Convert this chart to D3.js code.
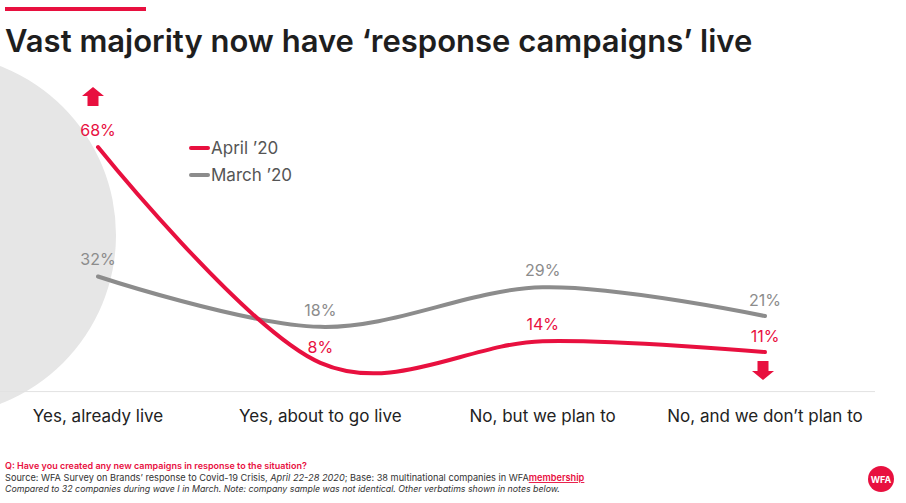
<!DOCTYPE html>
<html>
<head>
<meta charset="utf-8">
<script src="https://cdn.jsdelivr.net/npm/d3@7"></script>
<style>
  body { margin: 0; background: #fff; }
  text { font-family: Inter, "Open Sans", sans-serif; }
</style>
</head>
<body>
<svg id="chart" width="906" height="503"></svg>
<script>
// data
const categories = ["Yes, already live", "Yes, about to go live", "No, but we plan to", "No, and we don\u2019t plan to"];
const april = [68, 8, 14, 11];
const march = [32, 18, 29, 21];
const seriesNames = ["April \u201920", "March \u201920"];

const red = "#e8103f";
const grey = "#8c8c8c";

const svg = d3.select("#chart");

// big grey circle on the left
svg.append("circle")
  .attr("cx", -65).attr("cy", 235).attr("r", 181)
  .style("fill", "#e6e6e6");

// header
svg.append("rect").attr("x", 5).attr("y", 7).attr("width", 141).attr("height", 4).style("fill", red);
svg.append("text")
  .attr("x", 5).attr("y", 52)
  .style("font-size", "31px").style("font-weight", 600).style("fill", "#1e1e1e")
  .text("Vast majority now have \u2018response campaigns\u2019 live");

var x = d3.scalePoint().domain(categories).range([98, 765]);
var y = d3.scaleLinear().domain([0, 68]).range([391.6, 147]);

// baseline
svg.append("line")
  .attr("x1", 0).attr("x2", 875)
  .attr("y1", y(0)).attr("y2", y(0))
  .attr("stroke", "#e2e2e2").attr("stroke-width", 1);

// category labels
svg.append("g")
  .selectAll("text")
  .data(categories)
  .join("text")
  .attr("x", (d) => x(d))
  .attr("y", 422)
  .attr("text-anchor", "middle")
  .style("font-size", "17px")
  .style("fill", "#222")
  .text((d) => d);

var line = d3.line()
  .x((d, i) => x(categories[i]))
  .y((d) => y(d))
  .curve(d3.curveCardinal.tension(0));

svg.append("path").datum(march)
  .attr("d", line).attr("fill", "none")
  .attr("stroke", grey).attr("stroke-width", 4).attr("stroke-linecap", "round");
svg.append("path").datum(april)
  .attr("d", line).attr("fill", "none")
  .attr("stroke", red).attr("stroke-width", 4).attr("stroke-linecap", "round");

// value labels
var aprilOff = [-11, -10, -11, -10];
var marchOff = [-11, -11, -11, -10];
svg.append("g").selectAll("text").data(april).join("text")
  .attr("x", (d, i) => x(categories[i]))
  .attr("y", (d, i) => y(d) + aprilOff[i])
  .attr("text-anchor", "middle")
  .style("font-size", "16px").style("fill", red)
  .text((d) => d + "%");
svg.append("g").selectAll("text").data(march).join("text")
  .attr("x", (d, i) => x(categories[i]))
  .attr("y", (d, i) => y(d) + marchOff[i])
  .attr("text-anchor", "middle")
  .style("font-size", "16px").style("fill", grey)
  .text((d) => d + "%");

// arrows
function arrow(cx, top, dir) {
  // house-shaped arrow, 22 wide, 19 tall
  var pts = dir > 0
    ? [[0, 0], [11, 9], [5.5, 9], [5.5, 19], [-5.5, 19], [-5.5, 9], [-11, 9]]
    : [[0, 19], [11, 10], [5.5, 10], [5.5, 0], [-5.5, 0], [-5.5, 10], [-11, 10]];
  svg.append("path")
    .attr("d", d3.line()(pts.map((p) => [cx + p[0], top + p[1]])) + "Z")
    .style("fill", red);
}
arrow(93, 87, 1);
arrow(763, 361, -1);

// legend
var legend = svg.append("g");
[red, grey].forEach((c, i) => {
  legend.append("line")
    .attr("x1", 191).attr("x2", 208)
    .attr("y1", 148 + i * 27).attr("y2", 148 + i * 27)
    .attr("stroke", c).attr("stroke-width", 4).attr("stroke-linecap", "round");
  legend.append("text")
    .attr("x", 211).attr("y", 154 + i * 27)
    .style("font-size", "17px").style("fill", "#555")
    .text(seriesNames[i]);
});

// footnotes
var notes = svg.append("g");
notes.append("text").attr("x", 5).attr("y", 469)
  .style("font-size", "9px").style("fill", red).style("font-weight", 600)
  .text("Q: Have you created any new campaigns in response to the situation?");
var src = notes.append("text").attr("x", 5).attr("y", 481)
  .style("font-size", "9.2px").style("fill", "#333");
src.append("tspan").text("Source: WFA Survey on Brands\u2019 response to Covid-19 Crisis, ");
src.append("tspan").style("font-style", "italic").text("April 22-28 2020");
src.append("tspan").text("; Base: 38 multinational companies in WFA");
src.append("tspan").style("fill", red).style("font-weight", 600).style("text-decoration", "underline").text("membership");
notes.append("text").attr("x", 5).attr("y", 492)
  .style("font-size", "8.8px").style("fill", "#333").style("font-style", "italic")
  .text("Compared to 32 companies during wave I in March. Note: company sample was not identical. Other verbatims shown in notes below.");

// logo
svg.append("circle").attr("cx", 881).attr("cy", 479).attr("r", 13).style("fill", red);
svg.append("text").attr("x", 881).attr("y", 482.5)
  .attr("text-anchor", "middle")
  .style("font-size", "9px").style("font-weight", 700).style("fill", "#fff")
  .text("WFA");
</script>
</body>
</html>
